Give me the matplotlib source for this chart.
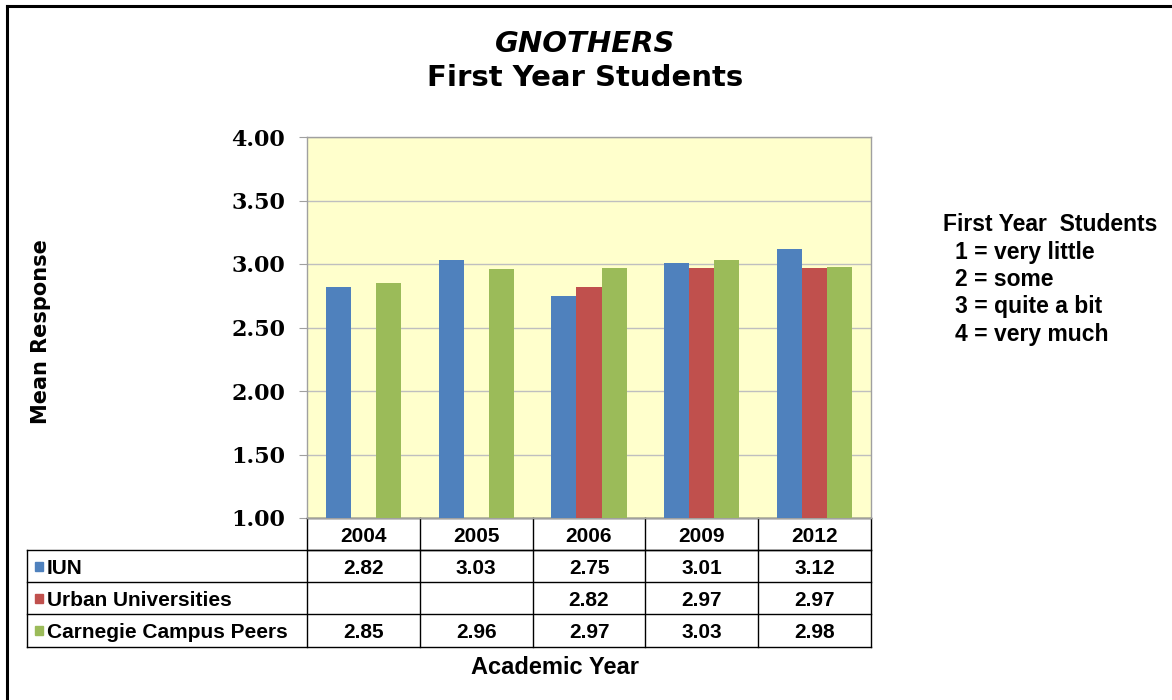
import matplotlib
matplotlib.use("Agg")
import matplotlib.pyplot as plt
import matplotlib.transforms as mtransforms
from matplotlib.lines import Line2D
from matplotlib.patches import Rectangle
import numpy as np

years = ["2004", "2005", "2006", "2009", "2012"]
series_names = ["IUN", "Urban Universities", "Carnegie Campus Peers"]
iun = [2.82, 3.03, 2.75, 3.01, 3.12]
urban = [None, None, 2.82, 2.97, 2.97]
carnegie = [2.85, 2.96, 2.97, 3.03, 2.98]
colors = ["#4F81BD", "#C0504D", "#9BBB59"]
yticks = [1.00, 1.50, 2.00, 2.50, 3.00, 3.50, 4.00]
scale_title = "First Year  Students"
scale_lines = ["1 = very little", "2 = some", "3 = quite a bit", "4 = very much"]

W, H = 1172, 700
fig = plt.figure(figsize=(W / 100, H / 100), dpi=100)

def fx(px):
    return px / W

def fy(py):
    return 1 - py / H

# outer frame (top and left edges)
fig.add_artist(Line2D([fx(7), fx(7)], [fy(6), 0], color="black", lw=2.2, transform=fig.transFigure))
fig.add_artist(Line2D([fx(7), 1], [fy(6), fy(6)], color="black", lw=2.2, transform=fig.transFigure))

L, R, T, B = 307, 871, 137, 518
ax = fig.add_axes([fx(L), fy(B), fx(R) - fx(L), fy(T) - fy(B)])
ax.set_facecolor("#FFFFCC")

x = np.arange(len(years))
bw = 0.222
series = [iun, urban, carnegie]
for i, (vals, c) in enumerate(zip(series, colors)):
    xs = [xi + (i - 1) * bw for xi, v in zip(x, vals) if v is not None]
    vs = [v - 1.0 for v in vals if v is not None]
    ax.bar(xs, vs, width=bw, bottom=1.0, color=c, edgecolor="none", zorder=3)

ax.set_xlim(-0.5, len(years) - 0.5)
ax.set_ylim(1.0, 4.0)
ax.set_yticks(yticks)
ax.set_yticklabels([f"{t:.2f}" for t in yticks], fontfamily="DejaVu Serif",
                   fontweight="bold", fontsize=16)
ax.tick_params(axis="y", length=5.8, color="#A0A0A0", pad=10)
ax.set_xticks([])
ax.grid(axis="y", color="#BFBFBF", lw=1.0, zorder=0)
for s in ax.spines.values():
    s.set_color("#A0A0A0")
    s.set_linewidth(1.0)

# data table
trans = mtransforms.blended_transform_factory(ax.transData, ax.transAxes)
ph = B - T

def ay(py):
    return (B - py) / ph

row_edges = [518, 550, 582, 614, 647]
left_px = 27
ax_left = (left_px - L) / (R - L)
tbl_font = dict(fontfamily="Liberation Sans", fontweight="bold", fontsize=15)
lc = "black"
lw = 1.0
for yy in [row_edges[0], row_edges[1]]:
    ax.add_line(Line2D([0, 1], [ay(yy), ay(yy)], transform=ax.transAxes, color=lc, lw=lw, clip_on=False))
for yy in row_edges[1:]:
    ax.add_line(Line2D([ax_left, 1], [ay(yy), ay(yy)], transform=ax.transAxes, color=lc, lw=lw, clip_on=False))
for k in range(len(years) + 1):
    xv = k - 0.5
    ax.add_line(Line2D([xv, xv], [ay(row_edges[0]), ay(row_edges[-1])], transform=trans,
                       color=lc, lw=lw, clip_on=False))
ax.add_line(Line2D([ax_left, ax_left], [ay(row_edges[1]), ay(row_edges[-1])], transform=ax.transAxes,
                   color=lc, lw=lw, clip_on=False))

for j, yr in enumerate(years):
    ax.text(j, ay((row_edges[0] + row_edges[1]) / 2), yr, transform=trans, ha="center",
            va="center_baseline", **tbl_font)
for r, (name, vals, c) in enumerate(zip(series_names, series, colors)):
    yc = ay((row_edges[r + 1] + row_edges[r + 2]) / 2)
    sw_x = ax_left + 8 / (R - L)
    ax.add_patch(Rectangle((sw_x, yc - 4.5 / ph), 8 / (R - L), 9 / ph, transform=ax.transAxes,
                           color=c, clip_on=False))
    ax.text(ax_left + 20 / (R - L), yc, name, transform=ax.transAxes, ha="left",
            va="center_baseline", **tbl_font)
    for j, v in enumerate(vals):
        if v is not None:
            ax.text(j, yc, f"{v:.2f}", transform=trans, ha="center", va="center_baseline", **tbl_font)

# titles
fig.text(fx(585), fy(44), "GNOTHERS", ha="center", va="center", fontfamily="DejaVu Sans",
         fontweight="bold", fontstyle="italic", fontsize=21)
fig.text(fx(585), fy(78), "First Year Students", ha="center", va="center", fontfamily="DejaVu Sans",
         fontweight="bold", fontsize=21)
fig.text(fx(41), fy(332), "Mean Response", rotation=90, ha="center", va="center",
         fontfamily="DejaVu Sans", fontweight="bold", fontsize=15)
fig.text(fx(555), fy(668), "Academic Year", ha="center", va="center",
         fontfamily="Liberation Sans", fontweight="bold", fontsize=17)

# scale legend
fig.text(fx(943), fy(224), scale_title, ha="left", va="center", fontfamily="Liberation Sans",
         fontweight="bold", fontsize=16.5)
for k, s in enumerate(scale_lines):
    fig.text(fx(955), fy(252 + k * 27.5), s, ha="left", va="center", fontfamily="Liberation Sans",
             fontweight="bold", fontsize=16.5)

fig.savefig("out.png", dpi=100)
